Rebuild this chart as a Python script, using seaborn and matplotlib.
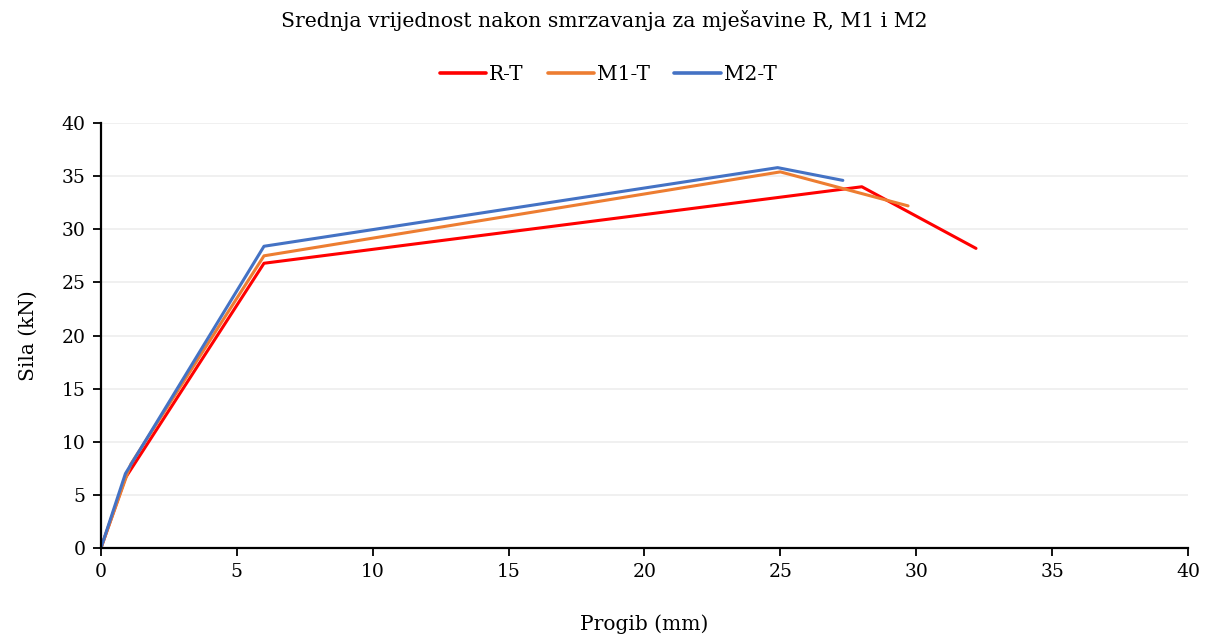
import numpy as np
import pandas as pd
import matplotlib
matplotlib.use("Agg")
import matplotlib.pyplot as plt
import seaborn as sns

# Mean force–deflection curves after freezing
series_names = ["R-T", "M1-T", "M2-T"]
rt_x = [0.0, 0.9, 6.0, 28.0, 32.2]
rt_y = [0.0, 6.6, 26.8, 34.0, 28.2]
m1_x = [0.0, 1.1, 6.0, 25.0, 29.7]
m1_y = [0.0, 7.9, 27.5, 35.4, 32.2]
m2_x = [0.0, 0.9, 6.0, 24.9, 27.3]
m2_y = [0.0, 7.0, 28.4, 35.8, 34.6]
colors = ["#FF0000", "#ED7D31", "#4472C4"]

x_ticks = [0, 5, 10, 15, 20, 25, 30, 35, 40]
y_ticks = [0, 5, 10, 15, 20, 25, 30, 35, 40]

frames = []
for name, xs, ys in zip(series_names, [rt_x, m1_x, m2_x], [rt_y, m1_y, m2_y]):
    frames.append(pd.DataFrame({"Progib": xs, "Sila": ys, "Serija": name}))
df = pd.concat(frames, ignore_index=True)

sns.set_theme(style="white")
plt.rcParams["font.family"] = ["DejaVu Serif"]
plt.rcParams["text.color"] = "#000000"
plt.rcParams["axes.labelcolor"] = "#000000"

fig = plt.figure(figsize=(12.09, 6.39), dpi=100)
ax = fig.add_axes([0.0835, 0.1424, 0.8991, 0.6651])

sns.lineplot(data=df, x="Progib", y="Sila", hue="Serija", hue_order=series_names,
             palette=colors, sort=False, estimator=None, units="Serija",
             linewidth=2.2, ax=ax, legend=False)

ax.set_xlim(0, 40)
ax.set_ylim(0, 40)
ax.set_xticks(x_ticks)
ax.set_yticks(y_ticks)
ax.tick_params(axis="both", labelsize=13.5, colors="#000000", length=6, width=1.3,
               direction="out", pad=5)
ax.tick_params(axis="x", bottom=True)
ax.tick_params(axis="y", left=True)
ax.yaxis.grid(True, color="#EFEFEF", linewidth=1.3)
ax.xaxis.grid(False)
ax.set_axisbelow(True)
for side in ["top", "right"]:
    ax.spines[side].set_visible(False)
for side in ["left", "bottom"]:
    ax.spines[side].set_color("#000000")
    ax.spines[side].set_linewidth(1.6)

ax.set_xlabel("Progib (mm)", fontsize=14.5, labelpad=24)
ax.set_ylabel("Sila (kN)", fontsize=14.5, labelpad=17)

fig.suptitle("Srednja vrijednost nakon smrzavanja za mješavine R, M1 i M2",
             fontsize=14.7, y=0.985)

handles = [plt.Line2D([0], [0], color=c, lw=2.6) for c in colors]
fig.legend(handles, series_names, loc="center", bbox_to_anchor=(0.503, 0.884),
           ncol=3, frameon=False, fontsize=14.5, handlelength=2.3,
           handletextpad=0.15, columnspacing=1.2)

fig.savefig("out.png", dpi=100)
